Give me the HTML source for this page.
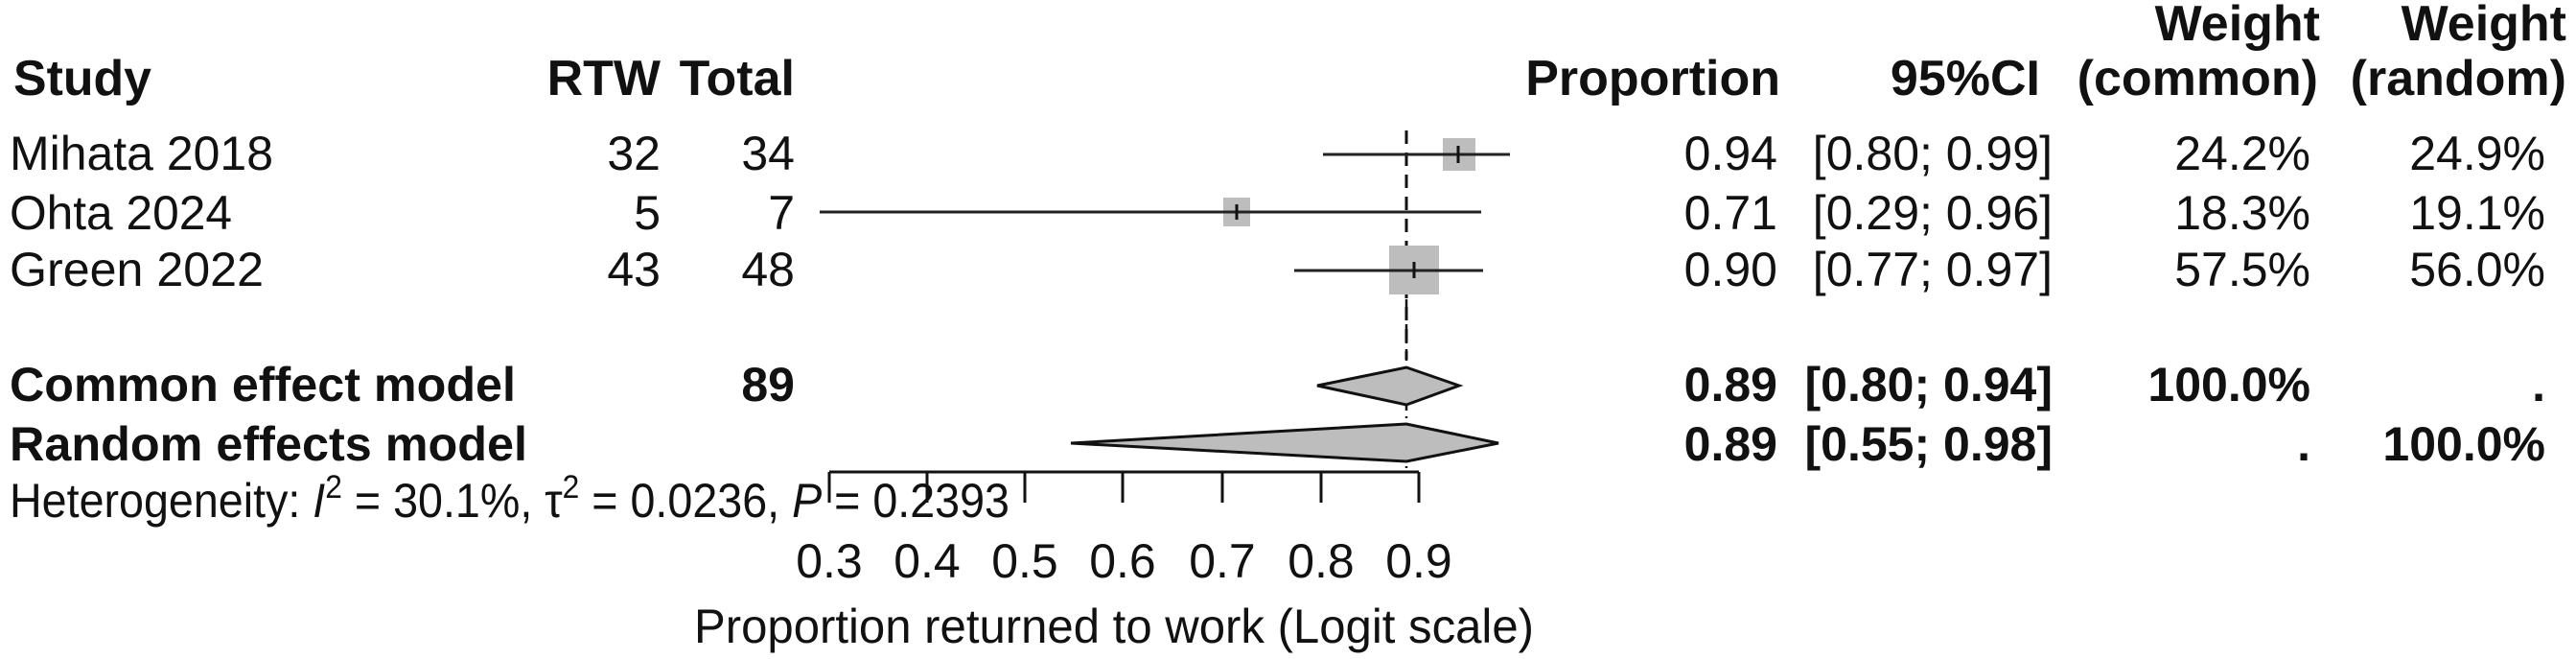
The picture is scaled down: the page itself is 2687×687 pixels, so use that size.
<!DOCTYPE html>
<html><head><meta charset="utf-8"><style>
html,body{margin:0;padding:0;background:#fff;}
svg{display:block;}
text{font-family:"Liberation Sans",Arial,sans-serif;fill:#111;}
.b{font-weight:bold;}
</style></head><body>
<svg width="2687" height="687" viewBox="0 0 2687 687" xmlns="http://www.w3.org/2000/svg">
<g font-size="50">
<!-- headers -->
<text class="b" x="14" y="99" font-size="52" textLength="144" lengthAdjust="spacingAndGlyphs">Study</text>
<text class="b" x="689" y="99" font-size="52" text-anchor="end">RTW</text>
<text class="b" x="829" y="99" font-size="52" text-anchor="end">Total</text>
<text class="b" x="1857" y="99" font-size="52" text-anchor="end">Proportion</text>
<text class="b" x="2128" y="99" font-size="52" text-anchor="end">95%CI</text>
<text class="b" x="2420" y="42" font-size="52" text-anchor="end">Weight</text>
<text class="b" x="2418" y="99" font-size="52" text-anchor="end">(common)</text>
<text class="b" x="2677" y="42" font-size="52" text-anchor="end">Weight</text>
<text class="b" x="2677" y="99" font-size="52" text-anchor="end">(random)</text>

<!-- studies -->
<text x="10" y="177" textLength="275" lengthAdjust="spacingAndGlyphs">Mihata 2018</text>
<text x="689" y="177" text-anchor="end">32</text>
<text x="829" y="177" text-anchor="end">34</text>
<text x="1854" y="177" text-anchor="end">0.94</text>
<text x="2141" y="177" text-anchor="end">[0.80; 0.99]</text>
<text x="2410" y="177" text-anchor="end">24.2%</text>
<text x="2655" y="177" text-anchor="end">24.9%</text>

<text x="10" y="239" textLength="232" lengthAdjust="spacingAndGlyphs">Ohta 2024</text>
<text x="689" y="239" text-anchor="end">5</text>
<text x="829" y="239" text-anchor="end">7</text>
<text x="1854" y="239" text-anchor="end">0.71</text>
<text x="2141" y="239" text-anchor="end">[0.29; 0.96]</text>
<text x="2410" y="239" text-anchor="end">18.3%</text>
<text x="2655" y="239" text-anchor="end">19.1%</text>

<text x="10" y="298" textLength="265" lengthAdjust="spacingAndGlyphs">Green 2022</text>
<text x="689" y="298" text-anchor="end">43</text>
<text x="829" y="298" text-anchor="end">48</text>
<text x="1854" y="298" text-anchor="end">0.90</text>
<text x="2141" y="298" text-anchor="end">[0.77; 0.97]</text>
<text x="2410" y="298" text-anchor="end">57.5%</text>
<text x="2655" y="298" text-anchor="end">56.0%</text>

<!-- models -->
<text class="b" x="10" y="418" textLength="528" lengthAdjust="spacingAndGlyphs">Common effect model</text>
<text class="b" x="829" y="418" text-anchor="end">89</text>
<text class="b" x="1854" y="418" text-anchor="end">0.89</text>
<text class="b" x="2141" y="418" text-anchor="end">[0.80; 0.94]</text>
<text class="b" x="2410" y="418" text-anchor="end">100.0%</text>
<text class="b" x="2655" y="418" text-anchor="end">.</text>

<text class="b" x="10" y="480" textLength="540" lengthAdjust="spacingAndGlyphs">Random effects model</text>
<text class="b" x="1854" y="480" text-anchor="end">0.89</text>
<text class="b" x="2141" y="480" text-anchor="end">[0.55; 0.98]</text>
<text class="b" x="2410" y="480" text-anchor="end">.</text>
<text class="b" x="2655" y="480" text-anchor="end">100.0%</text>

<text x="10" y="539" textLength="1043" lengthAdjust="spacingAndGlyphs">Heterogeneity: <tspan font-style="italic">I</tspan><tspan dy="-20" font-size="34">2</tspan><tspan dy="20"> = 30.1%, τ</tspan><tspan dy="-20" font-size="34">2</tspan><tspan dy="20"> = 0.0236, </tspan><tspan font-style="italic">P</tspan><tspan> = 0.2393</tspan></text>

<!-- tick labels -->
<g text-anchor="middle">
<text x="865" y="602">0.3</text>
<text x="967" y="602">0.4</text>
<text x="1069" y="602">0.5</text>
<text x="1171" y="602">0.6</text>
<text x="1275" y="602">0.7</text>
<text x="1378" y="602">0.8</text>
<text x="1480" y="602">0.9</text>
</g>
<text x="1162" y="670" text-anchor="middle" textLength="876" lengthAdjust="spacingAndGlyphs">Proportion returned to work (Logit scale)</text>
</g>

<!-- reference line -->
<line x1="1467" y1="136" x2="1467" y2="375" stroke="#111" stroke-width="3" stroke-dasharray="14,9"/>
<line x1="1467" y1="312" x2="1467" y2="491" stroke="#111" stroke-width="2.5" stroke-dasharray="12,6,2,6"/>

<!-- studies -->
<rect x="1505" y="144" width="34" height="34" fill="#bdbdbd"/>
<line x1="1380" y1="161" x2="1575" y2="161" stroke="#222" stroke-width="3"/>
<line x1="1521" y1="152" x2="1521" y2="170" stroke="#111" stroke-width="3"/>

<rect x="1276" y="206" width="28" height="30" fill="#bdbdbd"/>
<line x1="855" y1="221" x2="1545" y2="221" stroke="#222" stroke-width="3"/>
<line x1="1290" y1="213" x2="1290" y2="229" stroke="#111" stroke-width="3"/>

<rect x="1449" y="256" width="52" height="51" fill="#bdbdbd"/>
<line x1="1350" y1="282" x2="1547" y2="282" stroke="#222" stroke-width="3"/>
<line x1="1475" y1="273" x2="1475" y2="290" stroke="#111" stroke-width="3"/>

<!-- diamonds -->
<polygon points="1374,402 1467,383 1522,402 1467,422" fill="#bdbdbd" stroke="#111" stroke-width="3"/>
<polygon points="1117,462 1467,442 1563,462 1467,481" fill="#bdbdbd" stroke="#111" stroke-width="3"/>

<!-- axis -->
<g stroke="#111" stroke-width="3">
<line x1="865" y1="492" x2="1480" y2="492"/>
<line x1="865" y1="492" x2="865" y2="524"/>
<line x1="967" y1="492" x2="967" y2="524"/>
<line x1="1069" y1="492" x2="1069" y2="524"/>
<line x1="1171" y1="492" x2="1171" y2="524"/>
<line x1="1275" y1="492" x2="1275" y2="524"/>
<line x1="1378" y1="492" x2="1378" y2="524"/>
<line x1="1480" y1="492" x2="1480" y2="524"/>
</g>
</svg>
</body></html>
